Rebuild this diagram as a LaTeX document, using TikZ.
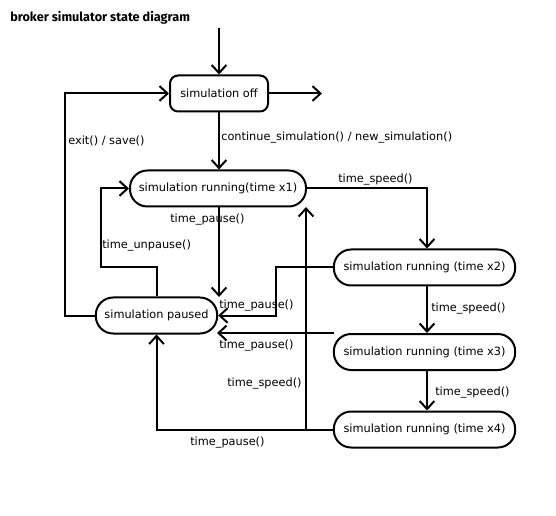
\documentclass[tikz,border=0pt]{standalone}
\usepackage{fontspec}
\setmainfont{DejaVu Sans}
\newfontfamily\titlefont{Fira Sans}
\usetikzlibrary{arrows.meta}
\begin{document}
\begin{tikzpicture}[x=0.75pt,y=-0.75pt,
  font=\fontsize{8.5}{10}\selectfont,
  state/.style={draw,line width=1.5pt,inner sep=0pt,minimum height=27pt},
  stadium/.style={state,rounded corners=13pt},
  offbox/.style={state,rounded corners=6pt},
  arr/.style={line width=1.5pt,-{Straight Barb[length=6pt,width=11pt,line width=1.5pt]}},
  lbl/.style={inner sep=0pt,anchor=west}]
\useasboundingbox (0,0) rectangle (556,516);
\node[lbl,font=\titlefont\fontsize{9.5}{10}\selectfont\bfseries] (title) at (10,18) {broker simulator state diagram};
\node[offbox,minimum width=73.5pt] (off) at (219,93.5) {simulation off};
\node[stadium,minimum width=132pt] (x1) at (218,188.5) {simulation running(time x1)};
\node[stadium,minimum width=91pt] (paused) at (156.5,315.5) {simulation paused};
\node[stadium,minimum width=136pt] (x2) at (424.5,267.5) {simulation running (time x2)};
\node[stadium,minimum width=136pt] (x3) at (424.5,352) {simulation running (time x3)};
\node[stadium,minimum width=136pt] (x4) at (424.5,429.5) {simulation running (time x4)};
\coordinate (init) at (219,28);
\coordinate (exitpt) at (322,93.5);
\coordinate (p3) at (334,333);
\coordinate (tsx) at (306,0);
\coordinate (vx) at (427,0);
\draw[arr] (init) -- (off);
\draw[arr] (off) -- (exitpt);
\draw[arr] (paused.west) -- ++(-30,0) |- (off.west);
\draw[arr] (off.south) -- (off.south |- x1.north);
\draw[arr] (x1.east) -| (vx |- x2.north);
\draw[arr] (x1.south -| 219,0) -- (219,297);
\draw[arr] (paused.north) -- ++(0,-29) -- ++(-56,0) |- (x1.west);
\draw[arr] (x2.west) -- ++(-57,0) |- (paused.east);
\draw[arr] (vx |- x2.south) -- (vx |- x3.north);
\draw[arr] (p3) -- (217,333);
\draw[arr] (vx |- x3.south) -- (vx |- x4.north);
\draw[arr] (x4.west) -| (paused.south);
\draw[arr] (x4.west -| tsx) -- (tsx |- 0,207);
\node[lbl] (l1) at (68,141) {exit() / save()};
\node[lbl] (l2) at (221,138) {continue\_simulation() / new\_simulation()};
\node[lbl] (l3) at (338,180) {time\_speed()};
\node[lbl] (l4) at (170,220) {time\_pause()};
\node[lbl] (l5) at (102,246) {time\_unpause()};
\node[lbl] (l6) at (219,306) {time\_pause()};
\node[lbl] (l7) at (431,309) {time\_speed()};
\node[lbl] (l8) at (219,346) {time\_pause()};
\node[lbl] (l9) at (227,384) {time\_speed()};
\node[lbl] (l10) at (435,393) {time\_speed()};
\node[lbl] (l11) at (190,443) {time\_pause()};
\end{tikzpicture}
\end{document}
